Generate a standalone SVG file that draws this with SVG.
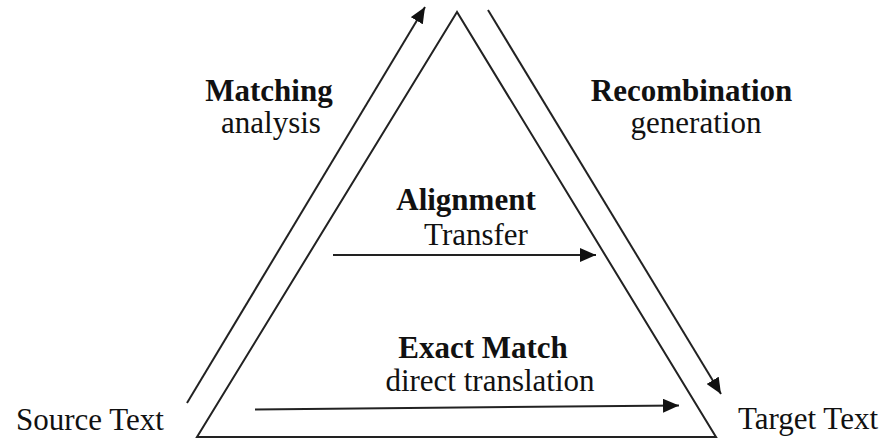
<svg xmlns="http://www.w3.org/2000/svg" width="886" height="440" viewBox="0 0 886 440">
  <style>
    text { font-family: "Liberation Serif", "Times New Roman", serif; font-size: 31px; fill: #111; }
    .b { font-weight: bold; }
    .ln { stroke: #222; stroke-width: 2; fill: none; }
  </style>
  <defs>
    <marker id="ah" markerUnits="userSpaceOnUse" markerWidth="18" markerHeight="14" refX="16" refY="7" orient="auto">
      <path d="M0,0 L16,7 L0,14 Z" fill="#111"/>
    </marker>
  </defs>
  <rect width="886" height="440" fill="#fff"/>
  <g id="triangle">
    <polygon class="ln" points="457,12 197,437 716,437"/>
  </g>
  <g id="connectors">
    <line class="ln" x1="187" y1="403" x2="425" y2="7" marker-end="url(#ah)"/>
    <line class="ln" x1="488" y1="10" x2="721" y2="394" marker-end="url(#ah)"/>
    <line class="ln" x1="333" y1="255" x2="596" y2="255" marker-end="url(#ah)"/>
    <line class="ln" x1="255" y1="409.5" x2="679" y2="405.5" marker-end="url(#ah)"/>
  </g>
  <g id="matching">
    <text class="b" x="269" y="101" text-anchor="middle">Matching</text>
    <text x="271" y="133" text-anchor="middle">analysis</text>
  </g>
  <g id="recombination">
    <text class="b" x="691.5" y="101" text-anchor="middle">Recombination</text>
    <text x="696" y="133" text-anchor="middle">generation</text>
  </g>
  <g id="alignment">
    <text class="b" x="466" y="210" text-anchor="middle">Alignment</text>
    <text x="476" y="245" text-anchor="middle">Transfer</text>
  </g>
  <g id="exact-match">
    <text class="b" x="483" y="358" text-anchor="middle">Exact Match</text>
    <text x="490" y="391" text-anchor="middle">direct translation</text>
  </g>
  <g id="source">
    <text x="90" y="430" text-anchor="middle">Source Text</text>
  </g>
  <g id="target">
    <text x="808" y="429" text-anchor="middle">Target Text</text>
  </g>
</svg>
